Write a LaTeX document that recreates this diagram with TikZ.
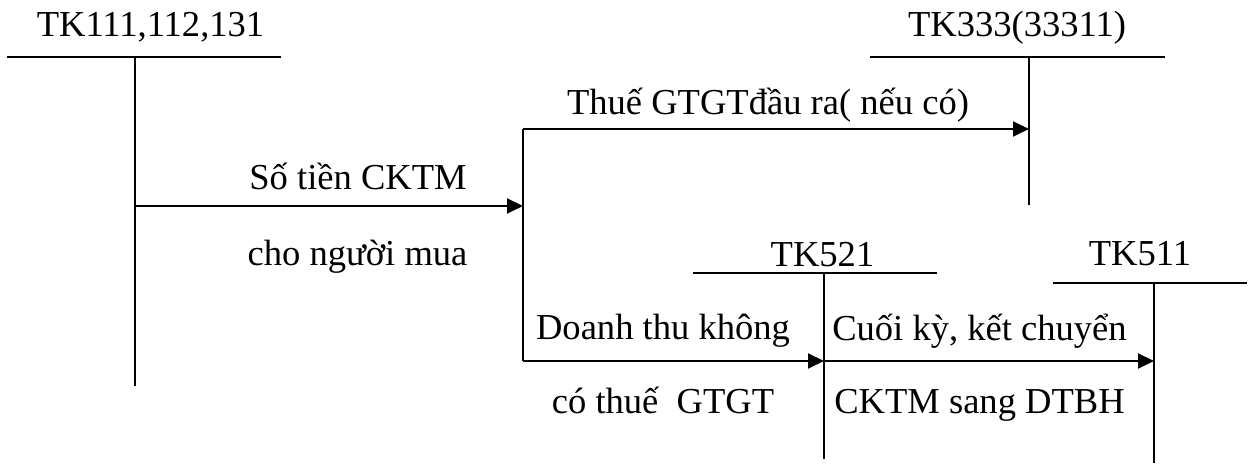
\documentclass[tikz,border=0pt]{standalone}
\usepackage{fontspec}
\setmainfont{Liberation Serif}
\usetikzlibrary{arrows.meta,calc,positioning}

\begin{document}
\begin{tikzpicture}[
  every node/.style={font=\fontsize{20.8}{25}\selectfont, inner sep=0pt, anchor=base},
  acc/.style={line width=1.1pt},
  flow/.style={line width=1.1pt, -{Triangle[length=0.32cm,width=0.3cm]}}
]
\useasboundingbox (0,0) rectangle (25.1,9.3);
% tai khoan chu T
\draw[acc] (0.14,8.16) -- (5.62,8.16);
\draw[acc] (2.7,8.16) -- (2.7,1.58);
\node (t111) at (3.01,8.56) {TK111,112,131};
\draw[acc] (17.4,8.16) -- (23.3,8.16);
\draw[acc] (20.58,8.16) -- (20.58,5.2);
\node (t333) at (20.34,8.56) {TK333(33311)};
\draw[acc] (13.86,3.84) -- (18.74,3.84);
\draw[acc] (16.48,3.84) -- (16.48,0.12);
\node (t521) at (16.45,3.96) {TK521};
\draw[acc] (21.06,3.64) -- (24.94,3.64);
\draw[acc] (23.08,3.64) -- (23.08,0.04);
\node (t511) at (22.8,3.98) {TK511};
% cac diem noi
\coordinate (a111) at (2.7,5.18);
\coordinate (br) at (10.46,5.18);
\coordinate (brT) at (10.46,6.72);
\coordinate (brB) at (10.46,2.08);
\coordinate (e333) at (20.58,6.72);
\coordinate (e521) at (16.48,2.08);
\coordinate (e511) at (23.08,2.08);
% but toan
\draw[acc] (brT) -- (brB);
\draw[flow] (a111) -- (br);
\draw[flow] (brT) -- (e333);
\draw[flow] (brB) -- (e521);
\draw[flow] (e521) -- (e511);
\node (l1) at (7.16,5.5) {Số tiền CKTM};
\node (l2) at (7.15,3.98) {cho người mua};
\node (l3) at (15.36,7.0) {Thuế GTGTđầu ra( nếu có)};
\node (l4) at (13.26,2.5) {Doanh thu không};
\node (l5) at (13.26,1.02) {có thuế\hspace{0.5em}GTGT};
\node (l6) at (19.59,2.48) {Cuối kỳ, kết chuyển};
\node (l7) at (19.59,1.02) {CKTM sang DTBH};
\end{tikzpicture}
\end{document}
